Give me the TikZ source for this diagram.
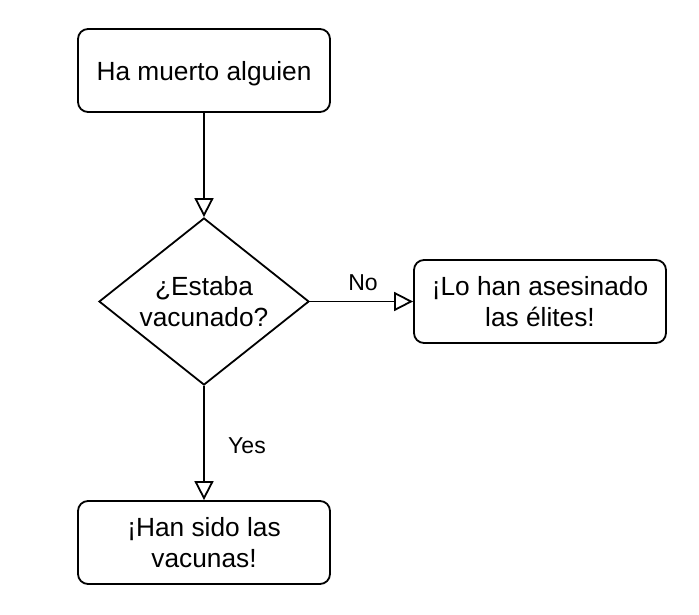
\documentclass[tikz,border=0pt]{standalone}
\usepackage{fontspec}
\setmainfont{Liberation Sans}
\usetikzlibrary{shapes.geometric,arrows.meta}
\begin{document}
\begin{tikzpicture}[x=1pt,y=-1pt,
  box/.style={draw,line width=1.8pt,rounded corners=10pt,minimum width=252pt,minimum height=83pt,align=center,inner sep=0pt,font=\fontsize{26.3}{31}\selectfont},
  dec/.style={draw,diamond,line width=1.8pt,minimum width=210pt,minimum height=167pt,aspect=1.257,inner sep=0pt,align=center,font=\fontsize{26.3}{31}\selectfont},
  flow/.style={draw,line width=1.8pt,-{Triangle[open,length=19pt 0,width=19pt 0,fill=white]}},
  lbl/.style={font=\fontsize{23}{27}\selectfont,inner sep=0pt}]
\useasboundingbox (0,0) rectangle (699,614);
\node[box,text depth=0pt] (start) at (204,70.5) {Ha muerto alguien};
\node[dec] (q) at (204,301.5) {¿Estaba\\vacunado?};
\node[box] (elite) at (540,301.5) {¡Lo han asesinado\\las élites!};
\node[box] (vac) at (204,542.5) {¡Han sido las\\vacunas!};
\draw[flow] (start) -- (q);
\draw[flow] (q) -- (elite);
\draw[flow] (q) -- (vac);
\node[lbl] (no) at (363,283) {No};
\node[lbl] (yes) at (247,446) {Yes};
\end{tikzpicture}
\end{document}
